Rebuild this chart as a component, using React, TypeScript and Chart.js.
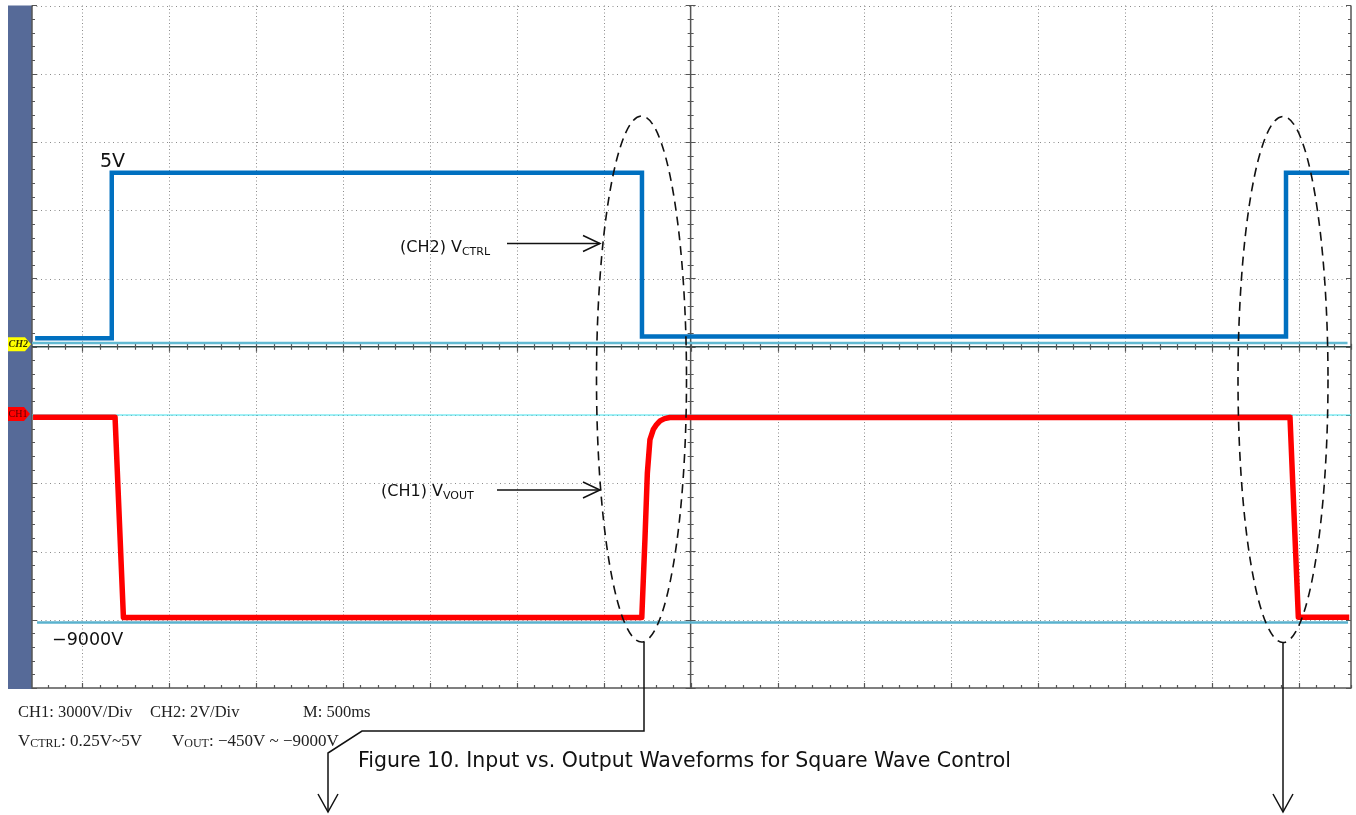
import React, { useEffect, useRef } from "react";
import { Chart, registerables } from "chart.js";

Chart.register(...registerables);

// ---- scope settings ----
const timeMinMs = -3790;
const timeMaxMs = 3800;
const msPerDiv = 500;
const ch2VoltsPerDiv = 2;
const ch1VoltsPerDiv = 3000;
const ch1GroundDiv = -1; // CH1 marker one division below centre

// ---- CH2 (V_CTRL) trace ----
const ch2TimeMs = [-3772, -3331, -3331, -280, -280, 3426, 3426, 3790];
const ch2Volts = [0.25, 0.25, 5.1, 5.1, 0.3, 0.3, 5.1, 5.1];

// ---- CH1 (V_OUT) trace ----
const ch1TimeMs = [-3784, -3312, -3264, -281, -263, -249, -234, -215, -196, -176, -150, -120, 3449, 3497, 3790];
const ch1Volts = [-100, -100, -8900, -8900, -5485, -2546, -1079, -639, -420, -260, -160, -110, -100, -8890, -8890];

// ---- reference lines ----
const ch2RefTimeMs = [-3790, 3780];
const ch2RefVolts = [0.11, 0.11];
const ch1ZeroTimeMs = [-3790, 3800];
const ch1ZeroVolts = [0, 0];
const ch1LowRefTimeMs = [-3761, 3783];
const ch1LowRefVolts = [-9120, -9120];

// ---- texts ----
const label5V = "5V";
const label9000 = "\u22129000V";
const ctrlMain = "(CH2) V";
const ctrlSub = "CTRL";
const voutMain = "(CH1) V";
const voutSub = "VOUT";
const infoRow1 = ["CH1: 3000V/Div", "CH2: 2V/Div", "M: 500ms"];
const infoRow2a = ["V", "CTRL", ": 0.25V~5V"];
const infoRow2b = ["V", "OUT", ": \u2212450V ~ \u22129000V"];
const caption = "Figure 10. Input vs. Output Waveforms for Square Wave Control";

const pts = (xs: number[], ys: number[]) => xs.map((x, i) => ({ x, y: ys[i] }));

// layout (pixels)
const L = {
  barX: 8,
  label5V: { x: 100, y: 167 },
  label9000: { x: 52, y: 645 },
  ctrlLabel: { x: 400, y: 252 },
  ctrlArrow: { x1: 507, x2: 600, y: 243.5 },
  voutLabel: { x: 381, y: 496 },
  voutArrow: { x1: 497, x2: 600, y: 490 },
  ellipses: [
    { cx: 641.5, cy: 379, rx: 45, ry: 263 },
    { cx: 1283, cy: 379.5, rx: 45, ry: 263 },
  ],
  connector1: [
    [644, 642],
    [644, 731],
    [362, 731],
    [328, 753],
    [328, 812],
  ],
  connector2: [
    [1283, 642],
    [1283, 812],
  ],
  row1: { y: 717, xs: [18, 150, 303] },
  row2: { y: 746, xs: [18, 172] },
  caption: { x: 358, y: 767 },
};

const SANS = '"DejaVu Sans", sans-serif';
const SERIF = '"Liberation Serif", serif';

function drawArrowHead(ctx: CanvasRenderingContext2D, x: number, y: number, dir: "right" | "down") {
  ctx.beginPath();
  if (dir === "right") {
    ctx.moveTo(x - 17, y - 8);
    ctx.lineTo(x, y);
    ctx.lineTo(x - 17, y + 8);
  } else {
    ctx.moveTo(x - 10, y - 18);
    ctx.lineTo(x, y);
    ctx.lineTo(x + 10, y - 18);
  }
  ctx.stroke();
}

function drawSubText(
  ctx: CanvasRenderingContext2D,
  x: number,
  y: number,
  parts: string[],
  mainFont: string,
  subFont: string,
  subDrop: number
) {
  let cx = x;
  parts.forEach((p, i) => {
    const isSub = i === 1;
    ctx.font = isSub ? subFont : mainFont;
    ctx.fillText(p, cx, isSub ? y + subDrop : y);
    cx += ctx.measureText(p).width;
  });
}

const scopePlugin = {
  id: "scopeScreen",
  beforeDraw(chart: any) {
    const { ctx, chartArea: a } = chart;
    ctx.save();
    ctx.fillStyle = "#ffffff";
    ctx.fillRect(0, 0, chart.width, chart.height);
    ctx.fillStyle = "#566A98";
    ctx.fillRect(L.barX, a.top, a.left - L.barX, a.bottom - a.top + 1);
    ctx.restore();
  },
  beforeDatasetsDraw(chart: any) {
    const { ctx, chartArea: a, scales } = chart;
    const xs = scales.x;
    const y2 = scales.yCh2;
    ctx.save();
    // dotted grid
    ctx.strokeStyle = "#8c8c8c";
    ctx.lineWidth = 1;
    ctx.setLineDash([1, 2.5]);
    for (let k = -7; k <= 7; k++) {
      if (k === 0) continue;
      const px = Math.round(xs.getPixelForValue(k * msPerDiv)) + 0.5;
      ctx.beginPath();
      ctx.moveTo(px, a.top);
      ctx.lineTo(px, a.bottom);
      ctx.stroke();
    }
    ctx.setLineDash([1, 3.5]);
    for (let k = -4; k <= 5; k++) {
      if (k === 0) continue;
      const py = Math.round(y2.getPixelForValue(k * ch2VoltsPerDiv)) + 0.5;
      ctx.beginPath();
      ctx.moveTo(a.left, py);
      ctx.lineTo(a.right, py);
      ctx.stroke();
    }
    ctx.setLineDash([]);
    // centre cross and frame
    const x0 = xs.getPixelForValue(0);
    const y0 = y2.getPixelForValue(0);
    ctx.strokeStyle = "#555555";
    ctx.lineWidth = 1.5;
    ctx.beginPath();
    ctx.moveTo(x0, a.top);
    ctx.lineTo(x0, a.bottom);
    ctx.moveTo(a.left, a.top);
    ctx.lineTo(a.left, a.bottom);
    ctx.lineTo(a.right, a.bottom);
    ctx.lineTo(a.right, a.top);
    ctx.stroke();
    ctx.strokeStyle = "#2e4a4a";
    ctx.beginPath();
    ctx.moveTo(a.left, y0);
    ctx.lineTo(a.right, y0);
    ctx.stroke();
    // minor ticks
    ctx.strokeStyle = "#555555";
    ctx.lineWidth = 1.2;
    ctx.beginPath();
    const minorT = msPerDiv / 5;
    for (let t = Math.ceil(timeMinMs / minorT) * minorT; t <= timeMaxMs; t += minorT) {
      const px = Math.round(xs.getPixelForValue(t)) + 0.5;
      const major = Math.abs(t % msPerDiv) < 1e-6;
      const len = major ? 5 : 3;
      ctx.moveTo(px, y0 - len);
      ctx.lineTo(px, y0 + len);
      ctx.moveTo(px, a.bottom);
      ctx.lineTo(px, a.bottom - len);
    }
    const minorV = ch2VoltsPerDiv / 5;
    for (let v = -10; v <= 10 + 1e-6; v += minorV) {
      const py = Math.round(y2.getPixelForValue(v)) + 0.5;
      const major = Math.abs(Math.round(v / ch2VoltsPerDiv) * ch2VoltsPerDiv - v) < 1e-6;
      const len = major ? 5 : 3;
      ctx.moveTo(x0 - len, py);
      ctx.lineTo(x0 + len, py);
      ctx.moveTo(a.left, py);
      ctx.lineTo(a.left + len, py);
      ctx.moveTo(a.right, py);
      ctx.lineTo(a.right - len, py);
    }
    ctx.stroke();
    ctx.restore();
  },
  afterDatasetsDraw(chart: any) {
    const { ctx, scales } = chart;
    const y2 = scales.yCh2;
    const y1 = scales.yCh1;
    ctx.save();
    // channel markers
    const m2 = y2.getPixelForValue(0) - 2.5;
    ctx.fillStyle = "#FFFF00";
    ctx.beginPath();
    ctx.moveTo(8, m2 - 7);
    ctx.lineTo(25, m2 - 7);
    ctx.lineTo(31, m2);
    ctx.lineTo(25, m2 + 7);
    ctx.lineTo(8, m2 + 7);
    ctx.closePath();
    ctx.fill();
    ctx.fillStyle = "#333300";
    ctx.font = "italic bold 10px " + SERIF;
    ctx.textBaseline = "middle";
    ctx.fillText("CH2", 8.5, m2 + 0.5);
    const m1 = y1.getPixelForValue(0) - 1;
    ctx.fillStyle = "#FF0000";
    ctx.beginPath();
    ctx.moveTo(8, m1 - 7);
    ctx.lineTo(24, m1 - 7);
    ctx.lineTo(30, m1);
    ctx.lineTo(24, m1 + 7);
    ctx.lineTo(8, m1 + 7);
    ctx.closePath();
    ctx.fill();
    ctx.fillStyle = "#5a0000";
    ctx.font = "10px " + SERIF;
    ctx.fillText("CH1", 8.5, m1 + 0.5);
    ctx.textBaseline = "alphabetic";

    // level labels
    ctx.fillStyle = "#111111";
    ctx.font = "19px " + SANS;
    ctx.fillText(label5V, L.label5V.x, L.label5V.y);
    ctx.font = "17.5px " + SANS;
    ctx.fillText(label9000, L.label9000.x, L.label9000.y);

    // channel name labels
    drawSubText(ctx, L.ctrlLabel.x, L.ctrlLabel.y, [ctrlMain, ctrlSub], "16px " + SANS, "11px " + SANS, 3);
    drawSubText(ctx, L.voutLabel.x, L.voutLabel.y, [voutMain, voutSub], "16px " + SANS, "11px " + SANS, 3);

    // arrows
    ctx.strokeStyle = "#111111";
    ctx.lineWidth = 1.5;
    ctx.beginPath();
    ctx.moveTo(L.ctrlArrow.x1, L.ctrlArrow.y);
    ctx.lineTo(L.ctrlArrow.x2, L.ctrlArrow.y);
    ctx.moveTo(L.voutArrow.x1, L.voutArrow.y);
    ctx.lineTo(L.voutArrow.x2, L.voutArrow.y);
    ctx.stroke();
    drawArrowHead(ctx, L.ctrlArrow.x2, L.ctrlArrow.y, "right");
    drawArrowHead(ctx, L.voutArrow.x2, L.voutArrow.y, "right");

    // dashed ellipses
    ctx.setLineDash([9, 6]);
    ctx.lineWidth = 1.6;
    L.ellipses.forEach((e) => {
      ctx.beginPath();
      ctx.ellipse(e.cx, e.cy, e.rx, e.ry, 0, 0, Math.PI * 2);
      ctx.stroke();
    });
    ctx.setLineDash([]);

    // connectors
    ctx.lineWidth = 1.5;
    [L.connector1, L.connector2].forEach((c) => {
      ctx.beginPath();
      c.forEach(([x, y], i) => (i === 0 ? ctx.moveTo(x, y) : ctx.lineTo(x, y)));
      ctx.stroke();
      const [tx, ty] = c[c.length - 1];
      drawArrowHead(ctx, tx, ty, "down");
    });

    // info rows
    ctx.fillStyle = "#222222";
    ctx.font = "16.5px " + SERIF;
    infoRow1.forEach((t, i) => ctx.fillText(t, L.row1.xs[i], L.row1.y));
    drawSubText(ctx, L.row2.xs[0], L.row2.y, infoRow2a, "17px " + SERIF, "12px " + SERIF, 1);
    drawSubText(ctx, L.row2.xs[1], L.row2.y, infoRow2b, "17px " + SERIF, "12px " + SERIF, 1);

    // caption
    ctx.fillStyle = "#111111";
    ctx.font = "20.5px " + SANS;
    ctx.fillText(caption, L.caption.x, L.caption.y);
    ctx.restore();
  },
};

export default function App() {
  const canvasRef = useRef<HTMLCanvasElement | null>(null);

  useEffect(() => {
    if (!canvasRef.current) return;
    const chart = new Chart(canvasRef.current, {
      type: "line",
      data: {
        datasets: [
          {
            label: "CH2 V_CTRL",
            data: pts(ch2TimeMs, ch2Volts),
            yAxisID: "yCh2",
            borderColor: "#0070C0",
            borderWidth: 4.5,
            pointRadius: 0,
            borderJoinStyle: "miter",
          },
          {
            label: "CH1 V_OUT",
            data: pts(ch1TimeMs, ch1Volts),
            yAxisID: "yCh1",
            borderColor: "#FF0000",
            borderWidth: 5.5,
            pointRadius: 0,
            borderJoinStyle: "round",
          },
          {
            label: "CH2 ref",
            data: pts(ch2RefTimeMs, ch2RefVolts),
            yAxisID: "yCh2",
            borderColor: "#62BAD2",
            borderWidth: 2.5,
            pointRadius: 0,
          },
          {
            label: "CH1 zero",
            data: pts(ch1ZeroTimeMs, ch1ZeroVolts),
            yAxisID: "yCh1",
            borderColor: "#40E2EE",
            borderWidth: 1,
            pointRadius: 0,
          },
          {
            label: "CH1 low ref",
            data: pts(ch1LowRefTimeMs, ch1LowRefVolts),
            yAxisID: "yCh1",
            borderColor: "#5AB2CE",
            borderWidth: 2.5,
            pointRadius: 0,
          },
        ],
      },
      options: {
        animation: false,
        responsive: true,
        maintainAspectRatio: false,
        layout: { padding: { left: 32, top: 5.5, right: 5, bottom: 127 } },
        plugins: { legend: { display: false }, tooltip: { enabled: false } },
        elements: { line: { tension: 0 }, point: { radius: 0 } },
        scales: {
          x: { type: "linear", min: timeMinMs, max: timeMaxMs, display: false },
          yCh2: {
            type: "linear",
            min: -5 * ch2VoltsPerDiv,
            max: 5 * ch2VoltsPerDiv,
            display: false,
          },
          yCh1: {
            type: "linear",
            min: (-5 - ch1GroundDiv) * ch1VoltsPerDiv,
            max: (5 - ch1GroundDiv) * ch1VoltsPerDiv,
            display: false,
          },
        },
      },
      plugins: [scopePlugin],
    });
    return () => chart.destroy();
  }, []);

  return (
    <div style={{ position: "fixed", left: 0, top: 0, width: 1356, height: 815, background: "#fff" }}>
      <canvas ref={canvasRef} />
    </div>
  );
}
